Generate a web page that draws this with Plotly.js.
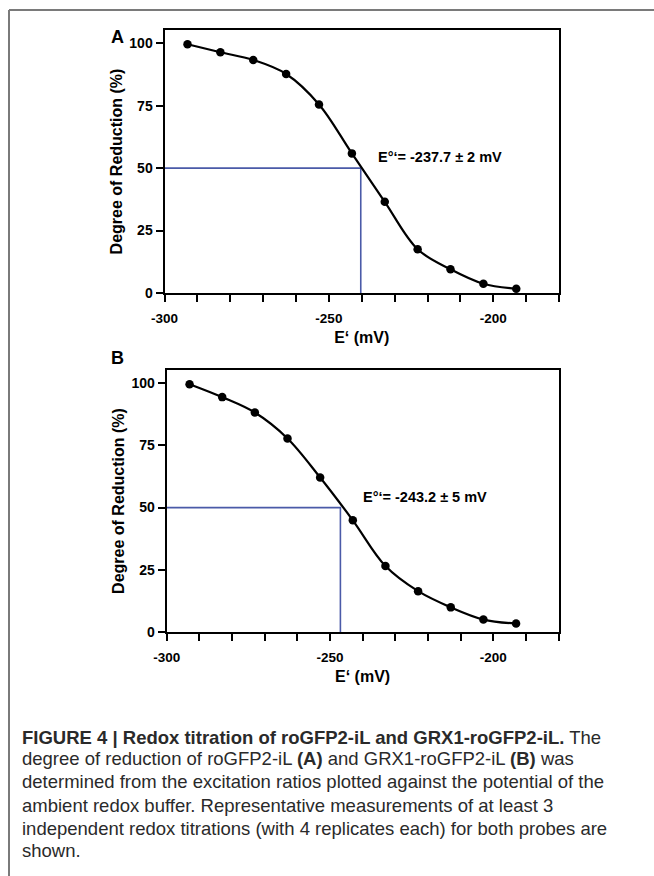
<!DOCTYPE html>
<html>
<head>
<meta charset="utf-8">
<script src="https://cdn.plot.ly/plotly-3.0.1.min.js"></script>
<style>
  html, body { margin: 0; padding: 0; background: #ffffff; }
  #chart { width: 654px; height: 876px; }
</style>
</head>
<body>
<div id="chart"></div>
<script>
// ---- data ----
const potentialA = [-293, -283, -273, -263, -253, -243, -233, -223, -213, -203, -193];
const reductionA = [99.6, 96.4, 93.3, 87.7, 75.5, 55.9, 36.5, 17.5, 9.5, 3.7, 1.7];
const potentialB = [-293, -283, -273, -263, -253, -243, -233, -223, -213, -203, -193];
const reductionB = [99.6, 94.4, 88.2, 77.8, 62.1, 44.9, 26.5, 16.4, 9.9, 5.0, 3.4];
const midpointA = -240.3;   // where the fitted curve crosses 50 %
const midpointB = -246.8;
const halfLevel = 50;
const labelA = "E°‘= -237.7 ± 2 mV";
const labelB = "E°‘= -243.2 ± 5 mV";
const xTickVals = [-300, -250, -200];
const xTickText = ['-300', '-250', '-200'];
const yTickVals = [0, 25, 50, 75, 100];
const yTickText = ['0', '25', '50', '75', '100'];
const xRange = [-300, -180];
const yRange = [0, 105.3];
const captionLines = [
  "<b>FIGURE 4 | Redox titration of roGFP2-iL and GRX1-roGFP2-iL.</b> The",
  "degree of reduction of roGFP2-iL <b>(A)</b> and GRX1-roGFP2-iL <b>(B)</b> was",
  "determined from the excitation ratios plotted against the potential of the",
  "ambient redox buffer. Representative measurements of at least 3",
  "independent redox titrations (with 4 replicates each) for both probes are",
  "shown."
];

// ---- helpers ----
const W = 654, H = 876;
const px = v => v / W;
const py = v => 1 - v / H;
const FONT = 'Liberation Sans, Arial, sans-serif';
const blue = '#4a5aa8';

function curveTrace(x, y, xa, ya) {
  return {
    x: x, y: y, xaxis: xa, yaxis: ya, type: 'scatter', mode: 'lines+markers',
    line: { color: '#000', width: 2.2, shape: 'spline', smoothing: 1 },
    marker: { color: '#000', size: 8.5 },
    hoverinfo: 'x+y', showlegend: false
  };
}
function guideTrace(mid, xa, ya) {
  return {
    x: [xRange[0], mid, mid], y: [halfLevel, halfLevel, 0], xaxis: xa, yaxis: ya,
    type: 'scatter', mode: 'lines', line: { color: blue, width: 1.6 },
    hoverinfo: 'skip', showlegend: false
  };
}

function xAxis(domain, anchor) {
  return {
    domain: domain, anchor: anchor, range: xRange, showgrid: false, zeroline: false,
    showline: true, linecolor: '#000', linewidth: 2, mirror: true,
    tickmode: 'array', tickvals: xTickVals, ticktext: xTickText,
    ticks: 'outside', ticklen: 7, tickwidth: 2, tickcolor: '#000',
    ticklabelstandoff: 5,
    tickfont: { family: FONT, size: 13.5, color: '#000', weight: 'bold' },
    minor: { tickmode: 'linear', tick0: -300, dtick: 10, ticks: 'outside', ticklen: 7, tickwidth: 2, tickcolor: '#000', showgrid: false },
    title: { text: 'E‘ (mV)', font: { family: FONT, size: 16, color: '#000', weight: 'bold' }, standoff: 7 },
    fixedrange: true
  };
}
function yAxis(domain, anchor) {
  return {
    domain: domain, anchor: anchor, range: yRange, showgrid: false, zeroline: false,
    showline: true, linecolor: '#000', linewidth: 2, mirror: true,
    tickmode: 'array', tickvals: yTickVals, ticktext: yTickText,
    ticks: 'outside', ticklen: 7, tickwidth: 2, tickcolor: '#000',
    tickfont: { family: FONT, size: 14, color: '#000', weight: 'bold' },
    title: { text: 'Degree of Reduction (%)', font: { family: FONT, size: 16, color: '#000', weight: 'bold' }, standoff: 3 },
    fixedrange: true
  };
}

const data = [
  guideTrace(midpointA, 'x', 'y'),
  curveTrace(potentialA, reductionA, 'x', 'y'),
  guideTrace(midpointB, 'x2', 'y2'),
  curveTrace(potentialB, reductionB, 'x2', 'y2')
];

const annotations = [
  { xref: 'paper', yref: 'paper', x: px(117), y: py(37), text: '<b>A</b>', showarrow: false,
    font: { family: FONT, size: 18, color: '#000' }, xanchor: 'center', yanchor: 'middle' },
  { xref: 'paper', yref: 'paper', x: px(117), y: py(358), text: '<b>B</b>', showarrow: false,
    font: { family: FONT, size: 18, color: '#000' }, xanchor: 'center', yanchor: 'middle' },
  { xref: 'paper', yref: 'paper', x: px(376), y: py(157), text: '<b>' + labelA + '</b>', showarrow: false,
    font: { family: FONT, size: 14.5, color: '#000' }, xanchor: 'left', yanchor: 'middle' },
  { xref: 'paper', yref: 'paper', x: px(361), y: py(497), text: '<b>' + labelB + '</b>', showarrow: false,
    font: { family: FONT, size: 14.5, color: '#000' }, xanchor: 'left', yanchor: 'middle' }
];
const captionY = [737, 758.5, 781.5, 805, 828, 850.5];
captionLines.forEach((t, i) => {
  annotations.push({ xref: 'paper', yref: 'paper', x: px(20), y: py(captionY[i]), text: t, showarrow: false,
    font: { family: FONT, size: 18.5, color: '#2a2a2a' }, xanchor: 'left', yanchor: 'middle', align: 'left' });
});

const layout = {
  width: W, height: H, margin: { l: 0, r: 0, t: 0, b: 0 },
  paper_bgcolor: '#fff', plot_bgcolor: '#fff', showlegend: false,
  xaxis: xAxis([px(164.5), px(559)], 'y'),
  yaxis: yAxis([py(293), py(30)], 'x'),
  xaxis2: xAxis([px(166.7), px(558.5)], 'y2'),
  yaxis2: yAxis([py(632), py(370)], 'x2'),
  annotations: annotations,
  shapes: [
    { type: 'line', xref: 'paper', yref: 'paper', x0: px(9), x1: 1.01, y0: py(10), y1: py(10), line: { color: '#7a7a7a', width: 2 } },
    { type: 'line', xref: 'paper', yref: 'paper', x0: px(9), x1: px(9), y0: py(10), y1: -0.01, line: { color: '#7a7a7a', width: 2 } }
  ]
};

Plotly.newPlot('chart', data, layout, { displayModeBar: false, staticPlot: true });
</script>
</body>
</html>
